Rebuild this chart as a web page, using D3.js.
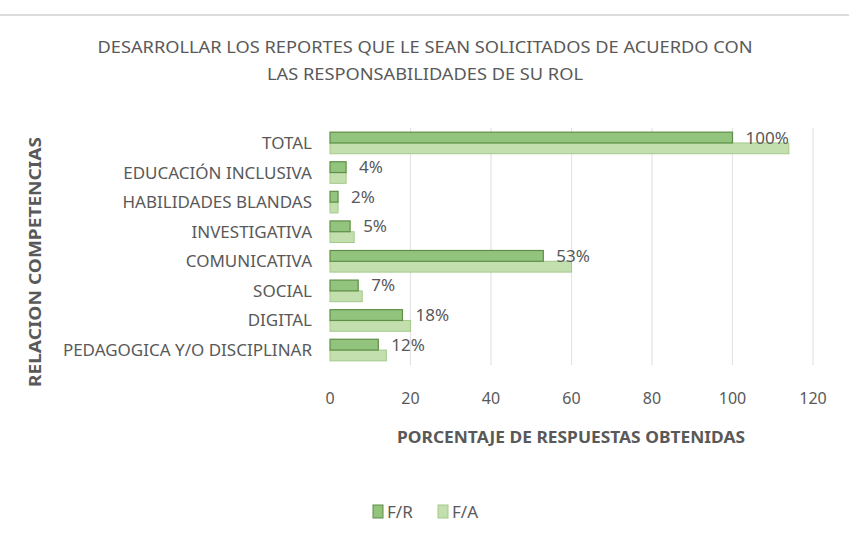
<!DOCTYPE html>
<html>
<head>
<meta charset="utf-8">
<script src="https://cdn.jsdelivr.net/npm/d3@7"></script>
<style>
  body { margin: 0; background: #fff; }
  text { font-family: "Noto Sans", "Open Sans", sans-serif; fill: #595959; }
</style>
</head>
<body>
<svg id="chart"></svg>
<script>
const categories = ["TOTAL", "EDUCACIÓN INCLUSIVA", "HABILIDADES BLANDAS", "INVESTIGATIVA",
  "COMUNICATIVA", "SOCIAL", "DIGITAL", "PEDAGOGICA Y/O DISCIPLINAR"];
const seriesNames = ["F/R", "F/A"];
const fr = [100, 4, 2, 5, 53, 7, 18, 12];
const fa = [114, 4, 2, 6, 60, 8, 20, 14];
const labels = ["100%", "4%", "2%", "5%", "53%", "7%", "18%", "12%"];
const xTicks = [0, 20, 40, 60, 80, 100, 120];

const width = 849, height = 546;
const plot = { left: 330, right: 813, top: 128, bottom: 365 };

const svg = d3.select("#chart").attr("width", width).attr("height", height);

// top border line
svg.append("line")
  .attr("x1", 0).attr("x2", width).attr("y1", 15).attr("y2", 15)
  .attr("stroke", "#dcdcdc").attr("stroke-width", 2);

const x = d3.scaleLinear().domain([0, 120]).range([plot.left, plot.right]);
const y = d3.scaleBand().domain(categories).range([plot.top, plot.bottom]).paddingInner(0.27).paddingOuter(0.14);
const ys = d3.scaleBand().domain(seriesNames).range([0, y.bandwidth()]);

// gridlines
svg.append("g")
  .selectAll("line")
  .data(xTicks.slice(1))
  .join("line")
  .attr("x1", d => x(d)).attr("x2", d => x(d))
  .attr("y1", plot.top).attr("y2", plot.bottom)
  .attr("stroke", "#e3e3e3").attr("stroke-width", 1.2);

// tick labels
svg.append("g")
  .selectAll("text")
  .data(xTicks)
  .join("text")
  .attr("x", d => x(d)).attr("y", 404)
  .attr("text-anchor", "middle")
  .style("font-size", "16px")
  .text(d => d);

// category labels
svg.append("g")
  .selectAll("text")
  .data(categories)
  .join("text")
  .attr("x", 312)
  .attr("y", d => y(d) + y.bandwidth() / 2 + 6)
  .attr("text-anchor", "end")
  .style("font-size", "17px")
  .text(d => d);

const rows = categories.map((c, i) => ({ c, fr: fr[i], fa: fa[i], label: labels[i] }));

// F/A bars (light)
svg.append("g")
  .selectAll("rect")
  .data(rows)
  .join("rect")
  .attr("x", x(0))
  .attr("y", d => y(d.c) + ys("F/A"))
  .attr("width", d => x(d.fa) - x(0))
  .attr("height", ys.bandwidth())
  .attr("fill", "#c3dfae")
  .attr("stroke", "#a3c98a").attr("stroke-width", 1);

// F/R bars (darker)
svg.append("g")
  .selectAll("rect")
  .data(rows)
  .join("rect")
  .attr("x", x(0))
  .attr("y", d => y(d.c) + ys("F/R"))
  .attr("width", d => x(d.fr) - x(0))
  .attr("height", ys.bandwidth())
  .attr("fill", "#93c47d")
  .attr("stroke", "#5f8f47").attr("stroke-width", 1.2);

// data labels
svg.append("g")
  .selectAll("text")
  .data(rows)
  .join("text")
  .attr("x", d => x(d.fr) + 13)
  .attr("y", d => y(d.c) + ys("F/R") + ys.bandwidth() / 2 + 6)
  .style("font-size", "17px")
  .text(d => d.label);

// title
svg.append("text")
  .attr("x", 425).attr("y", 53)
  .attr("text-anchor", "middle")
  .attr("textLength", 655).attr("lengthAdjust", "spacingAndGlyphs")
  .style("font-size", "17px")
  .text("DESARROLLAR LOS REPORTES QUE LE SEAN SOLICITADOS DE ACUERDO CON");
svg.append("text")
  .attr("x", 425).attr("y", 80)
  .attr("text-anchor", "middle")
  .attr("textLength", 316).attr("lengthAdjust", "spacingAndGlyphs")
  .style("font-size", "17px")
  .text("LAS RESPONSABILIDADES DE SU ROL");

// axis titles
svg.append("text")
  .attr("x", 571).attr("y", 443)
  .attr("text-anchor", "middle")
  .attr("textLength", 348).attr("lengthAdjust", "spacingAndGlyphs")
  .style("font-size", "16px").style("font-weight", "bold")
  .text("PORCENTAJE DE RESPUESTAS OBTENIDAS");

svg.append("text")
  .attr("transform", "translate(41,262) rotate(-90)")
  .attr("text-anchor", "middle")
  .attr("textLength", 250).attr("lengthAdjust", "spacingAndGlyphs")
  .style("font-size", "16px").style("font-weight", "bold")
  .text("RELACION COMPETENCIAS");

// legend
const legend = svg.append("g").attr("transform", "translate(373,505)");
const legendItems = [
  { name: "F/R", fill: "#93c47d", stroke: "#5f8f47" },
  { name: "F/A", fill: "#c3dfae", stroke: "#a3c98a" }
];
const li = legend.selectAll("g").data(legendItems).join("g")
  .attr("transform", (d, i) => `translate(${i * 65},0)`);
li.append("rect").attr("width", 10).attr("height", 13)
  .attr("fill", d => d.fill).attr("stroke", d => d.stroke);
li.append("text").attr("x", 14).attr("y", 13)
  .style("font-size", "17px").text(d => d.name);
</script>
</body>
</html>
